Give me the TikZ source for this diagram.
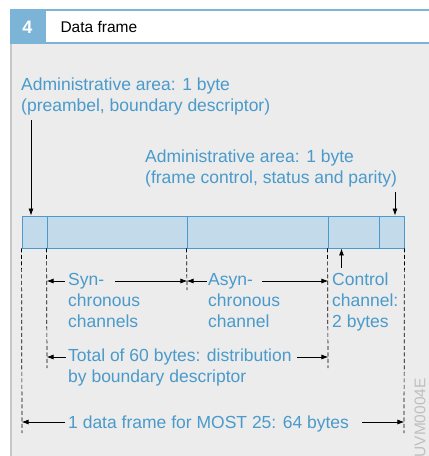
\documentclass[tikz,border=0pt]{standalone}
\usepackage{fontspec}
\setmainfont{Liberation Sans}
\usetikzlibrary{arrows.meta,positioning}
\definecolor{mostblue}{HTML}{4A9ACB}
\definecolor{barfill}{HTML}{C3DAEA}
\definecolor{headblue}{HTML}{7CB4D8}
\definecolor{panel}{HTML}{EBECEB}

\begin{document}
\begin{tikzpicture}[
    x=1pt, y=-1pt,
    lbl/.style={anchor=north west, inner sep=0pt, align=left, text=mostblue, font=\fontsize{17.5}{21}\selectfont},
    cell/.style={draw=mostblue, fill=barfill, line width=0.9pt, minimum height=32pt, inner sep=0pt},
    dim/.style={-{Latex[length=7pt,width=5pt]}, line width=0.8pt},
    guide/.style={dash pattern=on 4pt off 2.5pt, line width=0.7pt}
  ]
    \useasboundingbox (0,0) rectangle (429,456);
    % panel and header
    \fill[white] (0,0) rectangle (429,456);
    \fill[panel] (10,44) rectangle (429,456);
    \fill[black!22] (10,44) rectangle (12,456);
    \fill[headblue] (10,9) rectangle (429,11);
    \fill[headblue] (10,42) rectangle (429,44);
    \fill[headblue] (10,9) rectangle (46,44);
    \node[anchor=base, text=white, font=\fontsize{18}{18}\selectfont\bfseries] (num) at (27.5,33) {4};
    \node[anchor=base west, font=\fontsize{15.5}{18}\selectfont] (title) at (57,32.3) {Data frame};

    % the frame
    \node[cell, minimum width=25pt]  (pre)   at (34.5,232)  {};
    \node[cell, minimum width=140pt] (sync)  at (117,232)   {};
    \node[cell, minimum width=141pt] (async) at (257.5,232) {};
    \node[cell, minimum width=51pt]  (ctrl)  at (353.5,232) {};
    \node[cell, minimum width=25pt]  (par)   at (391.5,232) {};

    % labels
    \node[lbl] (adm1) at (21,78) {Administrative area: 1 byte\\(preambel, boundary descriptor)};
    \node[lbl] (adm2) at (145,150) {Administrative area: 1 byte\\(frame control, status and parity)};
    \node[lbl] (synlbl)  at (68,273)  {Syn-\\chronous\\channels};
    \node[lbl] (asynlbl) at (208,273) {Asyn-\\chronous\\channel};
    \node[lbl] (ctrllbl) at (332,273) {Control\\channel:\\2 bytes};
    \node[lbl] (total)   at (68,349)  {Total of 60 bytes: distribution\\by boundary descriptor};
    \node[lbl] (whole)   at (68,416)  {1 data frame for MOST 25: 64 bytes};
    \node[rotate=90, anchor=east, inner sep=0pt, text=black!25, font=\fontsize{15.5}{15.5}\selectfont] (code) at (420,378) {UVM0004E};

    % dashed guides
    \coordinate (g1) at (22,433);
    \coordinate (g2) at (47,368);
    \coordinate (g3) at (187,290);
    \coordinate (g4) at (328,368);
    \coordinate (g5) at (404,433);
    \draw[guide] (pre.south west) -- (g1);
    \draw[guide] (sync.south west) -- (g2);
    \draw[guide] (async.south west) -- (g3);
    \draw[guide] (ctrl.south west) -- (g4);
    \draw[guide] (par.south east) -- (g5);

    % pointers to the frame
    \coordinate (a1) at (31,120);
    \coordinate (a2) at (395,192);
    \coordinate (a3) at (341.5,268);
    \draw[dim] (a1) -- (a1 |- pre.north);
    \draw[dim] (a2) -- (a2 |- par.north);
    \draw[dim] (a3) -- (a3 |- ctrl.south);

    % dimension arrows
    \coordinate (s1) at (65,281);
    \coordinate (s2) at (115,281);
    \coordinate (s3) at (207,281);
    \coordinate (s4) at (262,281);
    \coordinate (t1) at (66,357);
    \coordinate (t2) at (297,357);
    \coordinate (f1) at (65,422);
    \coordinate (f2) at (362,422);
    \draw[dim] (s1) -- (s1 -| sync.west);
    \draw[dim] (s2) -- (s2 -| sync.east);
    \draw[dim] (s3) -- (s3 -| async.west);
    \draw[dim] (s4) -- (s4 -| async.east);
    \draw[dim] (t1) -- (t1 -| sync.west);
    \draw[dim] (t2) -- (t2 -| async.east);
    \draw[dim] (f1) -- (f1 -| pre.west);
    \draw[dim] (f2) -- (f2 -| par.east);
\end{tikzpicture}
\end{document}
